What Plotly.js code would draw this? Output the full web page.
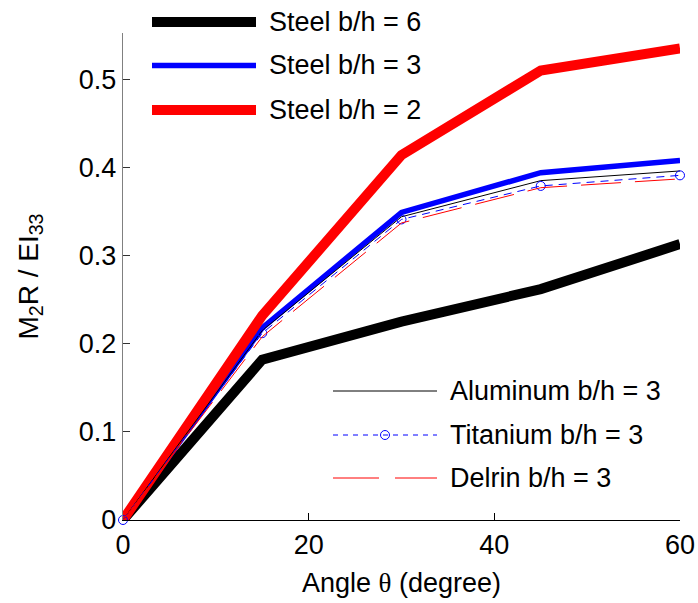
<!DOCTYPE html>
<html>
<head>
<meta charset="utf-8">
<script src="https://cdn.plot.ly/plotly-3.0.1.min.js"></script>
<style>html,body{margin:0;padding:0;background:#fff;}#chart{width:698px;height:603px;}</style>
</head>
<body>
<div id="chart"></div>
<script>
// ---- data ----
var angle = [0, 15, 30, 45, 60];
var steel6 = [0, 0.182, 0.225, 0.262, 0.313];
var steel3 = [0, 0.218, 0.349, 0.394, 0.408];
var steel2 = [0, 0.232, 0.414, 0.510, 0.535];
var aluminum3 = [0, 0.215, 0.344, 0.385, 0.396];
var titanium3 = [0, 0.212, 0.341, 0.379, 0.391];
var delrin3 = [0, 0.208, 0.337, 0.377, 0.387];
var seriesNames = ['Steel b/h = 6', 'Steel b/h = 3', 'Steel b/h = 2',
                   'Aluminum b/h = 3', 'Titanium b/h = 3', 'Delrin b/h = 3'];
var xTicks = [0, 20, 40, 60];
var yTicks = [0, 0.1, 0.2, 0.3, 0.4, 0.5];
var yTickText = ['0', '0.1', '0.2', '0.3', '0.4', '0.5'];

// ---- layout geometry ----
var W = 698, H = 603;
var mL = 123, mR = 18, mT = 33, mB = 83;
var pw = W - mL - mR, ph = H - mT - mB;
function px(x) { return (x - mL) / pw; }
function py(y) { return (H - mB - y) / ph; }
var FONT = 'Liberation Sans, Arial, Helvetica, sans-serif';

var styles = [
  {color: '#000000', width: 10, dash: 'solid'},
  {color: '#0000ff', width: 5.5, dash: 'solid'},
  {color: '#ff0000', width: 10, dash: 'solid'},
  {color: '#000000', width: 1, dash: 'solid'},
  {color: '#0000ff', width: 1, dash: '8px,6px'},
  {color: '#ff0000', width: 1, dash: '40px,14px'}
];
var ys = [steel6, steel3, steel2, aluminum3, titanium3, delrin3];

var traces = ys.map(function (v, i) {
  var t = {
    x: angle, y: v, name: seriesNames[i], type: 'scatter',
    mode: i === 4 ? 'lines+markers' : 'lines',
    line: {color: styles[i].color, width: styles[i].width, dash: styles[i].dash},
    cliponaxis: false,
    showlegend: false
  };
  if (i === 4) t.marker = {symbol: 'circle-open', size: 9, color: '#0000ff', line: {width: 1, color: '#0000ff'}};
  return t;
});

// manual legends (long sample lines)
var shapes = [], annotations = [];
var leg1 = {x0: 152, x1: 256, tx: 267, rows: [22, 65.5, 110]};
var leg2 = {x0: 333, x1: 437, tx: 448, rows: [391, 435, 478]};
function addRow(leg, r, i) {
  var yy = py(leg.rows[r]);
  shapes.push({type: 'line', xref: 'paper', yref: 'paper',
    x0: px(leg.x0), x1: px(leg.x1), y0: yy, y1: yy,
    line: {color: styles[i].color, width: styles[i].width, dash: i === 5 ? '46px,16px' : (i === 4 ? '5px,5px' : 'solid')}});
  if (i === 4) {
    var cx = (leg.x0 + leg.x1) / 2, rr = 4.5;
    shapes.push({type: 'circle', xref: 'paper', yref: 'paper',
      x0: px(cx - rr), x1: px(cx + rr), y0: py(leg.rows[r] + rr), y1: py(leg.rows[r] - rr),
      line: {color: '#0000ff', width: 1}, fillcolor: 'rgba(0,0,0,0)'});
  }
  annotations.push({xref: 'paper', yref: 'paper', x: px(leg.tx), y: yy,
    xanchor: 'left', yanchor: 'middle', showarrow: false, text: seriesNames[i],
    font: {family: FONT, size: 27, color: '#000'}});
}
for (var i = 0; i < 3; i++) addRow(leg1, i, i);
for (var j = 0; j < 3; j++) addRow(leg2, j, j + 3);

var layout = {
  width: W, height: H,
  margin: {l: mL, r: mR, t: mT, b: mB, pad: 0},
  paper_bgcolor: '#ffffff', plot_bgcolor: '#ffffff',
  showlegend: false,
  font: {family: FONT, size: 27, color: '#000'},
  xaxis: {
    range: [0, 60], tickvals: xTicks, ticktext: xTicks.map(String),
    ticks: 'inside', ticklen: 7, tickwidth: 1, tickcolor: '#000',
    showline: true, linecolor: '#000', linewidth: 1.3, mirror: false,
    showgrid: false, zeroline: false,
    tickfont: {family: FONT, size: 27, color: '#000'},
    title: {text: 'Angle <span style="font-family:Liberation Serif">θ</span> (degree)',
            font: {family: FONT, size: 27, color: '#000'}, standoff: 14}
  },
  yaxis: {
    range: [0, 0.5525], tickvals: yTicks, ticktext: yTickText,
    ticks: 'inside', ticklen: 7, tickwidth: 1, tickcolor: '#333',
    showline: true, linecolor: '#808080', linewidth: 1.3, mirror: false,
    showgrid: false, zeroline: false,
    tickfont: {family: FONT, size: 27, color: '#000'},
    title: {text: 'M<sub>2</sub>R / EI<sub>33</sub>',
            font: {family: FONT, size: 28, color: '#000'}, standoff: 32}
  },
  shapes: shapes,
  annotations: annotations
};

Plotly.newPlot('chart', traces, layout, {staticPlot: true, displayModeBar: false});
</script>
</body>
</html>
